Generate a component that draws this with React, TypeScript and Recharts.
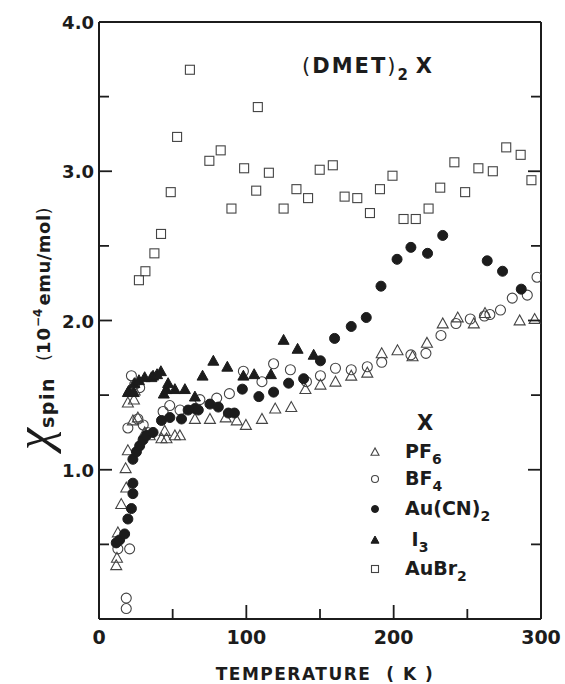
import { ScatterChart, Scatter, XAxis, YAxis, Legend } from 'recharts';

const INK = '#1c1c1c';
const FONT = '"DejaVu Sans", "Liberation Sans", Arial, sans-serif';

const xTicks = [0, 50, 100, 150, 200, 250, 300];
const yTicks = [0, 0.5, 1, 1.5, 2, 2.5, 3, 3.5, 4];

// [temperature K, chi_spin 10^-4 emu/mol]
const pf6 = [
  [11.7, 0.36], [12.2, 0.41], [12.8, 0.58], [15.1, 0.77], [18.1, 1.01], [18.5, 0.88],
  [19.6, 1.13], [19.6, 1.45], [23, 1.33], [23.7, 1.47], [24.2, 1.53], [26.4, 1.35],
  [31, 1.25], [34.4, 1.23], [42.4, 1.21], [44.6, 1.26], [45.8, 1.21], [51.5, 1.23],
  [54.9, 1.23], [65.1, 1.34], [75.3, 1.34], [86, 1.35], [93.5, 1.33], [99.7, 1.3],
  [110.6, 1.34], [119.6, 1.41], [130.5, 1.42], [140.1, 1.54], [150.3, 1.57], [160.5, 1.59],
  [171.2, 1.63], [182.1, 1.65], [191.9, 1.78], [202.6, 1.8], [212.8, 1.76], [222.6, 1.85],
  [233.3, 1.98], [243.5, 2.02], [254.4, 1.98], [262, 2.05], [285.5, 2.0], [295.7, 2.01],
];

const bf4 = [
  [12.8, 0.47], [18.5, 0.07], [18.5, 0.14], [20.8, 0.47], [19.6, 1.28], [22, 1.63],
  [24.2, 1.57], [26.4, 1.34], [27.6, 1.55], [30, 1.3], [33, 1.25], [43.5, 1.39],
  [48, 1.43], [55, 1.4], [68.5, 1.47], [79.9, 1.48], [88.5, 1.51], [98, 1.66],
  [110.6, 1.59], [118.5, 1.71], [129.9, 1.67], [140.8, 1.59], [150.3, 1.63], [160.5, 1.68],
  [171.2, 1.67], [182.1, 1.69], [191.9, 1.72], [211.7, 1.77], [221.9, 1.78], [232.1, 1.9],
  [242.3, 1.98], [252, 2.01], [261.6, 2.03], [265.3, 2.04], [272.5, 2.07], [280.5, 2.15],
  [290.7, 2.17], [297.3, 2.29],
];

const aucn2 = [
  [11.7, 0.51], [14, 0.53], [17.4, 0.57], [19.6, 0.67], [22, 0.74], [23, 0.84],
  [23, 0.91], [23, 1.07], [25.4, 1.12], [27.6, 1.16], [29.9, 1.2], [32.2, 1.23],
  [36.7, 1.25], [42.4, 1.33], [48.1, 1.35], [56, 1.34], [60.5, 1.4], [65.1, 1.41],
  [67.4, 1.4], [75.3, 1.44], [81, 1.42], [87.8, 1.38], [91.9, 1.38], [97.3, 1.54],
  [108.5, 1.49], [118.5, 1.52], [128.7, 1.58], [138.9, 1.61], [150.3, 1.73], [159.9, 1.88],
  [171.2, 1.96], [181.4, 2.02], [191.4, 2.23], [202.3, 2.41], [211.7, 2.49], [223, 2.45],
  [233.3, 2.57], [263.5, 2.4], [273.9, 2.33], [286.6, 2.21],
];

const i3 = [
  [19.6, 1.52], [20.3, 1.53], [23.6, 1.52], [24, 1.58], [27.1, 1.6], [31, 1.62],
  [35.6, 1.62], [36.7, 1.63], [39.4, 1.64], [42, 1.66], [44, 1.51], [45.8, 1.54],
  [46.9, 1.58], [51.5, 1.54], [58.3, 1.54], [65.1, 1.49], [70.3, 1.63], [77.6, 1.73],
  [87.1, 1.69], [98, 1.63], [105.3, 1.64], [116.7, 1.64], [125.3, 1.87], [134.8, 1.81],
  [145.7, 1.77],
];

const aubr2 = [
  [27.1, 2.27], [31.5, 2.33], [37.6, 2.45], [42.1, 2.58], [48.7, 2.86], [53, 3.23],
  [61.7, 3.68], [74.9, 3.07], [82.6, 3.14], [89.9, 2.75], [98.5, 3.02], [106.7, 2.87],
  [107.8, 3.43], [115.3, 2.99], [125.3, 2.75], [134, 2.88], [141.9, 2.82], [149.8, 3.01],
  [158.7, 3.04], [166.7, 2.83], [175.3, 2.82], [183.9, 2.72], [190.7, 2.88], [199.2, 2.97],
  [206.7, 2.68], [215, 2.68], [223.7, 2.75], [231.6, 2.89], [241.2, 3.06], [248.5, 2.86],
  [257.5, 3.02], [267.3, 3.0], [276.4, 3.16], [286.2, 3.11], [293.5, 2.94],
];

const toRows = (pts: number[][]) => pts.map(([t, chi]) => ({ t, chi }));

// marker shapes
const OpenTriangle = ({ cx, cy, s = 5.5 }: any) => (
  <polygon
    points={`${cx},${cy - s} ${cx - s},${cy + s * 0.8} ${cx + s},${cy + s * 0.8}`}
    fill="none" stroke="#444" strokeWidth={1.1}
  />
);
const FilledTriangle = ({ cx, cy, s = 5.5 }: any) => (
  <polygon
    points={`${cx},${cy - s} ${cx - s},${cy + s * 0.8} ${cx + s},${cy + s * 0.8}`}
    fill={INK} stroke={INK} strokeWidth={1}
  />
);
const OpenCircle = ({ cx, cy, r = 5 }: any) => (
  <circle cx={cx} cy={cy} r={r} fill="none" stroke="#444" strokeWidth={1.1} />
);
const FilledCircle = ({ cx, cy, r = 5 }: any) => (
  <circle cx={cx} cy={cy} r={r} fill={INK} stroke={INK} strokeWidth={1} />
);
const OpenSquare = ({ cx, cy, s = 4.5 }: any) => (
  <rect x={cx - s} y={cy - s} width={s * 2} height={s * 2} fill="none" stroke="#444" strokeWidth={1.1} />
);

const BottomTick = ({ x, y, payload }: any) => {
  const v = payload.value;
  const major = v % 100 === 0;
  return (
    <g>
      {v > 0 && v < 300 && (
        <line x1={x} y1={y} x2={x} y2={y - (major ? 14 : 10)} stroke={INK} strokeWidth={1.8} />
      )}
      {major && (
        <text x={x} y={y + 25} textAnchor="middle" fontFamily={FONT} fontWeight="bold" fontSize={19} fill={INK}>
          {v}
        </text>
      )}
    </g>
  );
};

const TopTick = ({ x, y, payload }: any) => {
  const v = payload.value;
  if (v <= 0 || v >= 300) return <g />;
  const major = v % 100 === 0;
  return <line x1={x} y1={y} x2={x} y2={y + (major ? 14 : 10)} stroke={INK} strokeWidth={1.8} />;
};

const LeftTick = ({ x, y, payload }: any) => {
  const v = payload.value;
  const major = Number.isInteger(v);
  return (
    <g>
      {v > 0 && v < 4 && (
        <line x1={x} y1={y} x2={x + (major ? 13 : 10)} y2={y} stroke={INK} strokeWidth={1.8} />
      )}
      {major && v > 0 && (
        <text x={x - 5} y={y + 7} textAnchor="end" fontFamily={FONT} fontWeight="bold" fontSize={18} fill={INK}>
          {v.toFixed(1)}
        </text>
      )}
    </g>
  );
};

const RightTick = ({ x, y, payload }: any) => {
  const v = payload.value;
  if (v <= 0 || v >= 4) return <g />;
  const major = Number.isInteger(v);
  return <line x1={x} y1={y} x2={x - (major ? 13 : 10)} y2={y} stroke={INK} strokeWidth={1.8} />;
};

const legendRows = [
  { name: 'PF', sub: '6', mark: 'ot', y: 58 },
  { name: 'BF', sub: '4', mark: 'oc', y: 85 },
  { name: 'Au(CN)', sub: '2', mark: 'fc', y: 115 },
  { name: '\u00a0I', sub: '3', mark: 'ft', y: 146 },
  { name: 'AuBr', sub: '2', mark: 'os', y: 175 },
];

const LegendBox = () => (
  <svg width={170} height={200} style={{ display: 'block' }}>
    <text x={52} y={30} fontFamily={FONT} fontWeight="bold" fontSize={21} fill={INK}>X</text>
    {legendRows.map((r) => (
      <g key={r.name}>
        {r.mark === 'ot' && <OpenTriangle cx={10} cy={r.y - 6} s={4} />}
        {r.mark === 'oc' && <OpenCircle cx={10} cy={r.y - 6} r={3.5} />}
        {r.mark === 'fc' && <FilledCircle cx={10} cy={r.y - 6} r={3.5} />}
        {r.mark === 'ft' && <FilledTriangle cx={10} cy={r.y - 6} s={4} />}
        {r.mark === 'os' && <OpenSquare cx={10} cy={r.y - 6} s={3.5} />}
        <text x={40} y={r.y} fontFamily={FONT} fontWeight="bold" fontSize={19} fill={INK}>
          {r.name}
          <tspan fontSize={14} dy={6}>{r.sub}</tspan>
        </text>
      </g>
    ))}
  </svg>
);

export default function App() {
  return (
    <div style={{ position: 'absolute', left: 0, top: 0, width: 565, height: 684, background: '#fff' }}>
      <ScatterChart width={565} height={684} margin={{ top: 20, right: 22, bottom: 25, left: 39 }}>
        <XAxis
          dataKey="t" type="number" domain={[0, 300]} ticks={xTicks} interval={0}
          allowDataOverflow tickSize={0} tickMargin={0} tickLine={false} tick={<BottomTick />}
          axisLine={{ stroke: INK, strokeWidth: 2 }} height={40}
        />
        <XAxis
          xAxisId="top" orientation="top" type="number" domain={[0, 300]} ticks={xTicks} interval={0}
          allowDataOverflow tickSize={0} tickMargin={0} tickLine={false} tick={<TopTick />}
          axisLine={{ stroke: INK, strokeWidth: 2 }} height={2}
        />
        <YAxis
          dataKey="chi" type="number" domain={[0, 4]} ticks={yTicks} interval={0}
          allowDataOverflow tickSize={0} tickMargin={0} tickLine={false} tick={<LeftTick />}
          axisLine={{ stroke: INK, strokeWidth: 2 }} width={60}
        />
        <YAxis
          yAxisId="right" orientation="right" type="number" domain={[0, 4]} ticks={yTicks} interval={0}
          allowDataOverflow tickSize={0} tickMargin={0} tickLine={false} tick={<RightTick />}
          axisLine={{ stroke: INK, strokeWidth: 2 }} width={2}
        />
        <Scatter name="PF6" data={toRows(pf6)} shape={<OpenTriangle />} isAnimationActive={false} />
        <Scatter name="BF4" data={toRows(bf4)} shape={<OpenCircle />} isAnimationActive={false} />
        <Scatter name="Au(CN)2" data={toRows(aucn2)} shape={<FilledCircle />} isAnimationActive={false} />
        <Scatter name="I3" data={toRows(i3)} shape={<FilledTriangle />} isAnimationActive={false} />
        <Scatter name="AuBr2" data={toRows(aubr2)} shape={<OpenSquare />} isAnimationActive={false} />
        <Legend
          layout="vertical" align="center" verticalAlign="middle"
          wrapperStyle={{ position: 'absolute', left: 365, top: 400, width: 170, height: 200 }}
          content={() => <LegendBox />}
        />
        <text x={302} y={73} fontFamily={FONT} fontWeight="bold" fontSize={21} fill={INK} letterSpacing={2}>
          <tspan fontWeight="normal">(</tspan>DMET<tspan fontWeight="normal">)</tspan>
          <tspan fontSize={15} dy={7}>2</tspan>
          <tspan dy={-7} dx={6}>X</tspan>
        </text>
        <text x={325} y={680} textAnchor="middle" fontFamily={FONT} fontWeight="bold" fontSize={17} fill={INK} letterSpacing={1.5}>
          TEMPERATURE {'\u00a0'}( K )
        </text>
        <text transform="translate(50, 450) rotate(-90)" fontFamily={FONT} fontWeight="bold" fill={INK}>
          <tspan fontFamily='"Liberation Serif", serif' fontStyle="italic" fontWeight="normal" fontSize={50}>χ</tspan>
          <tspan fontSize={19} dy={4} letterSpacing={1.5}>spin</tspan>
          <tspan fontSize={18} dy={-4} dx={16} fontWeight="normal">(</tspan>
          <tspan fontSize={18} letterSpacing={1}>10</tspan>
          <tspan fontSize={12} dy={-8}>−4</tspan>
          <tspan fontSize={18} dy={8} dx={3} letterSpacing={0.5}>emu/mol</tspan>
          <tspan fontSize={18} fontWeight="normal">)</tspan>
        </text>
      </ScatterChart>
    </div>
  );
}
